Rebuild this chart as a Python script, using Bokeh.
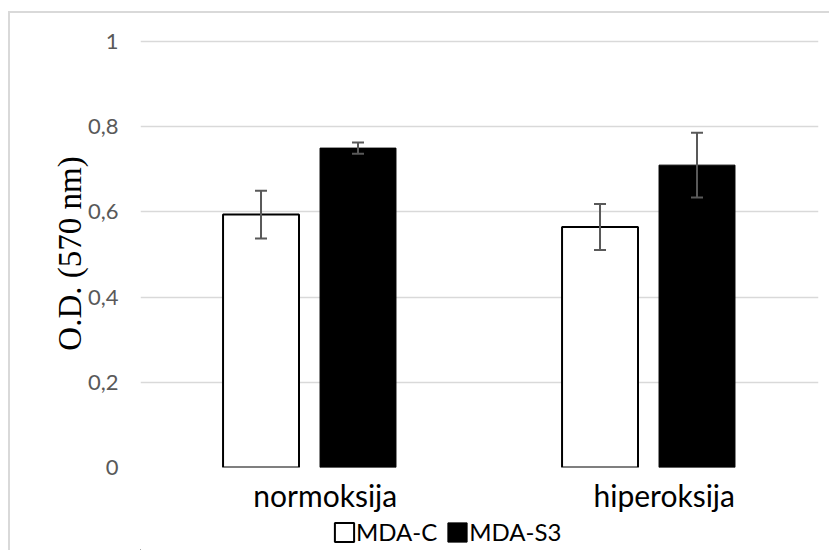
from bokeh.plotting import figure
from bokeh.layouts import column
from bokeh.models import (ColumnDataSource, Range1d, FixedTicker, CustomJSTickFormatter,
                          Whisker, Legend, LegendItem)
from bokeh.transform import dodge
from bokeh.embed import file_html
from bokeh.resources import INLINE

categories = ["normoksija", "hiperoksija"]
series_names = ["MDA-C", "MDA-S3"]
mda_c = [0.594, 0.565]
mda_c_err = [0.056, 0.054]
mda_s3 = [0.750, 0.710]
mda_s3_err = [0.013, 0.076]
y_ticks = [0, 0.2, 0.4, 0.6, 0.8, 1.0]

xpos = [i + 0.5 for i in range(len(categories))]
src = ColumnDataSource(dict(
    x=xpos,
    c=mda_c,
    c_up=[v + e for v, e in zip(mda_c, mda_c_err)],
    c_lo=[v - e for v, e in zip(mda_c, mda_c_err)],
    s3=mda_s3,
    s3_up=[v + e for v, e in zip(mda_s3, mda_s3_err)],
    s3_lo=[v - e for v, e in zip(mda_s3, mda_s3_err)],
))

BORDER = "2px solid #d9d9d9"

p = figure(x_range=Range1d(-0.045, 1.955), y_range=Range1d(0, 1.005),
           width=821, height=505, output_backend="svg", toolbar_location=None,
           min_border_left=130, min_border_top=26, min_border_right=13,
           min_border_bottom=51)
p.margin = (11, 0, 0, 8)
p.styles = {"border-left": BORDER, "border-top": BORDER}
p.outline_line_color = None

off_c = -0.1895
off_s = 0.0966
bw = 0.224
style_c = dict(fill_color="white", line_color="black", line_width=2)
style_s = dict(fill_color="black", line_color="black", line_width=1)
r1 = p.vbar(x=dodge("x", off_c), top="c", width=bw, source=src, **style_c)
r2 = p.vbar(x=dodge("x", off_s), top="s3", width=bw, source=src, **style_s)

for base, up, lo in [(off_c, "c_up", "c_lo"), (off_s, "s3_up", "s3_lo")]:
    w = Whisker(base=dodge("x", base), upper=up, lower=lo, source=src,
                line_color="#595959", line_width=2, level="overlay")
    w.upper_head.size = 12
    w.lower_head.size = 12
    w.upper_head.line_color = "#595959"
    w.lower_head.line_color = "#595959"
    w.upper_head.line_width = 2
    w.lower_head.line_width = 2
    p.add_layout(w)

p.xgrid.grid_line_color = None
p.ygrid.grid_line_color = "#d9d9d9"
p.ygrid.grid_line_width = 1.5

p.yaxis.ticker = FixedTicker(ticks=y_ticks)
p.yaxis.formatter = CustomJSTickFormatter(
    code="return (Math.round(tick*10)/10).toString().replace('.', ',');")
p.xaxis.ticker = FixedTicker(ticks=xpos)
p.xaxis.major_label_overrides = {x: c for x, c in zip(xpos, categories)}
for ax in (p.xaxis, p.yaxis):
    ax.axis_line_color = None
    ax.major_tick_line_color = None
    ax.minor_tick_line_color = None
p.yaxis.major_label_text_font = "Lato"
p.yaxis.major_label_text_font_size = "22px"
p.yaxis.major_label_text_color = "#595959"
p.yaxis.major_label_standoff = 16
p.yaxis.axis_label = "O.D. (570 nm)"
p.yaxis.axis_label_text_font = "Liberation Serif"
p.yaxis.axis_label_text_font_style = "normal"
p.yaxis.axis_label_text_font_size = "33px"
p.yaxis.axis_label_text_color = "black"
p.yaxis.axis_label_standoff = -3

p.xaxis.major_label_text_font = "Lato"
p.xaxis.major_label_text_font_size = "30px"
p.xaxis.major_label_text_color = "black"
p.xaxis.major_label_standoff = 3

# legend strip under the chart: the same series on ranges far from the data, so only legend glyphs show
p2 = figure(width=821, height=34, output_backend="svg", toolbar_location=None,
            x_range=Range1d(10, 11), y_range=Range1d(10, 11),
            x_axis_location=None, y_axis_location=None, min_border=0)
p2.margin = (0, 0, 0, 8)
p2.styles = {"border-left": BORDER}
p2.outline_line_color = None
p2.grid.visible = False
l1 = p2.vbar(x=dodge("x", off_c), top="c", width=bw, source=src, **style_c)
l2 = p2.vbar(x=dodge("x", off_s), top="s3", width=bw, source=src, **style_s)

legend = Legend(items=[LegendItem(label=series_names[0], renderers=[l1]),
                       LegendItem(label=series_names[1], renderers=[l2])],
                orientation="horizontal", location=(192, 4),
                border_line_color=None, background_fill_alpha=0,
                label_text_font="Lato", label_text_font_size="24px",
                label_text_color="black", glyph_width=24, glyph_height=24,
                spacing=8, label_standoff=0, padding=0, margin=0)
p2.add_layout(legend, "center")

lay = column(p, p2, spacing=0)
open("out.html", "w").write(file_html(lay, INLINE))
